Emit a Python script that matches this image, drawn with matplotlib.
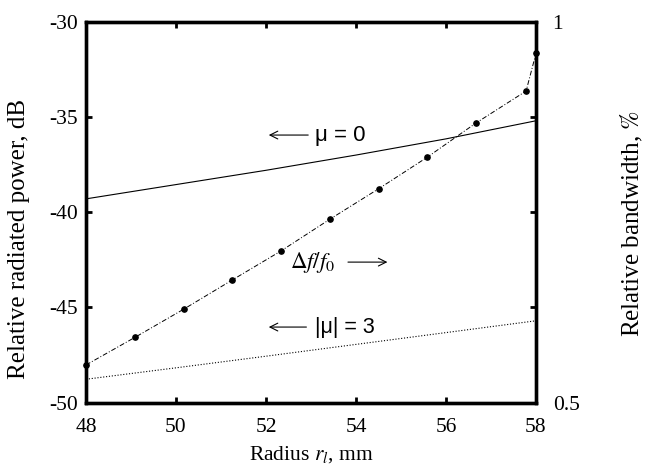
import matplotlib
matplotlib.use("Agg")
import matplotlib.pyplot as plt

plt.rcParams['font.family'] = ['Liberation Serif', 'DejaVu Serif']
plt.rcParams['mathtext.fontset'] = 'stix'

# data
r_power = [48, 50, 52, 54, 56, 58]
p_mu0 = [-39.3, -38.55, -37.8, -37.0, -36.15, -35.2]
p_mu3 = [-48.77, -48.17, -47.56, -46.94, -46.32, -45.7]
r_bw = [48.0, 49.09, 50.18, 51.25, 52.33, 53.42, 54.51, 55.58, 56.66, 57.78, 58.0]
bw = [0.5495, 0.5858, 0.623, 0.661, 0.699, 0.7408, 0.781, 0.822, 0.8668, 0.909, 0.9585]

xticks = [48, 50, 52, 54, 56, 58]
yticks = [-50, -45, -40, -35, -30]
ytick_labels = ['-50', '-45', '-40', '-35', '-30']

fig = plt.figure(figsize=(6.45, 4.69), dpi=100)
ax = fig.add_axes([0.1333, 0.1414, 0.831 - 0.1333, 0.9537 - 0.1414])
ax2 = ax.twinx()

ax.plot(r_power, p_mu0, color='black', lw=0.8, solid_capstyle='butt')
ax.plot(r_power, p_mu3, color='black', lw=0.8, linestyle=(0, (1.0, 1.6)))
ax2.plot(r_bw, bw, color='black', lw=0.7, linestyle=(0, (5, 2, 1, 2)),
         marker='o', markersize=3.8, markerfacecolor='black', markeredgecolor='black', clip_on=False)

ax.set_xlim(48, 58)
ax.set_ylim(-50, -30)
ax2.set_ylim(0.5, 1.0)

ax.set_xticks(xticks)
ax.set_yticks(yticks)
ax.set_yticklabels(ytick_labels)
ax.tick_params(axis='both', direction='in', length=4, width=2, labelsize=15.5,
               top=True, right=True, pad=6)
ax.tick_params(axis='x', pad=11)
ax2.set_yticks([0.5, 1.0])
ax2.set_yticklabels(['0.5', '1'])
ax2.tick_params(axis='y', length=0, labelsize=15.5, pad=12)

for a in (ax, ax2):
    for s in a.spines.values():
        s.set_linewidth(2.4)

ax.set_xlabel(r'Radius $r_l$, mm', fontsize=15.5)
ax.xaxis.set_label_coords(0.5, -0.137)
ax.xaxis.label.set_va('center')
ax.set_ylabel('Relative radiated power, dB', fontsize=18)
ax.yaxis.set_label_coords(-0.149, 0.43)
ax.yaxis.label.set_va('center')
ax2.set_ylabel(r'Relative bandwidth, $\%$', fontsize=18)
ax2.yaxis.set_label_coords(1.213, 0.47)
ax2.yaxis.label.set_va('center')

arrow_kw = dict(arrowstyle='->', lw=0.8, color='black', mutation_scale=14)
ax.annotate('', xy=(52.0, -35.95), xytext=(53.0, -35.95), arrowprops=arrow_kw)
ax.text(53.08, -35.95, 'μ = 0', family='Liberation Sans', fontsize=16, va='center', ha='left')

ax.text(52.53, -42.62, r'$\Delta f/f_0$', fontsize=16.5, va='center', ha='left')
ax.annotate('', xy=(54.76, -42.62), xytext=(53.76, -42.62), arrowprops=arrow_kw)

ax.annotate('', xy=(52.0, -46.03), xytext=(52.96, -46.03), arrowprops=arrow_kw)
ax.text(53.1, -46.03, '|μ| = 3', family='Liberation Sans', fontsize=15.5, va='center', ha='left')

fig.savefig('out.png', dpi=100)
